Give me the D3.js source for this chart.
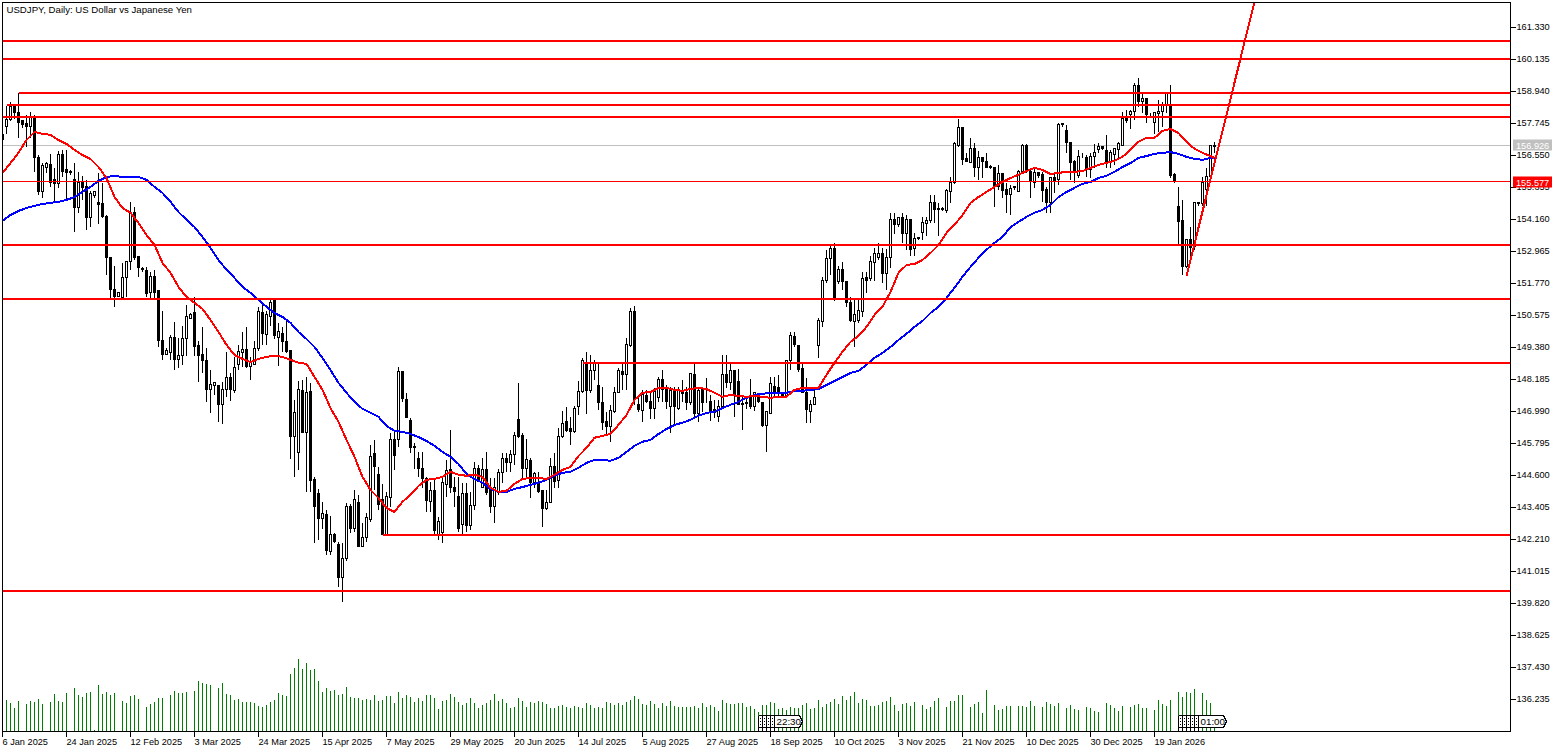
<!DOCTYPE html>
<html>
<head>
<meta charset="utf-8">
<title>USDJPY Daily</title>
<script src="https://cdn.jsdelivr.net/npm/d3@7"></script>
<style>
  html, body { margin: 0; padding: 0; background: #fff; overflow: hidden; }
  text { font-family: "Liberation Sans", Arial, sans-serif; font-size: 9.2px; fill: #000; }
</style>
</head>
<body>
<svg id="chart"></svg>
<script>
// Configuration
const width = 1563;
const height = 752;

// Data
const opens = [
157.32,157.62,157.88,158.37,158.14,157.84,157.73,157.62,157.99,156.46,
155.19,156.12,156.20,155.64,155.49,156.57,156.01,155.96,155.64,154.59,
155.53,155.38,154.22,155.04,154.78,154.74,154.26,152.73,151.53,151.27,
151.23,151.98,152.58,154.44,152.76,152.33,152.24,151.42,152.02,151.49,
149.66,149.10,149.18,149.74,148.92,149.07,149.70,150.48,150.67,149.44,
149.10,148.88,147.80,147.95,147.95,147.24,147.80,148.25,147.76,148.73,
149.18,149.29,148.66,148.73,149.33,150.67,149.85,150.52,151.16,149.74,
149.92,149.59,149.25,146.04,145.45,147.76,146.19,147.72,144.44,143.91,
142.98,143.13,141.75,142.38,142.01,140.78,141.49,143.43,142.61,143.58,
141.94,142.27,142.94,145.41,144.63,143.69,142.38,143.76,145.93,145.93,
148.47,147.42,146.64,145.63,145.22,144.85,144.47,143.62,144.03,142.38,
142.46,144.25,144.81,144.17,143.80,142.76,143.91,142.72,143.47,144.85,
144.17,144.81,144.17,143.43,143.95,144.70,145.22,145.07,145.37,146.68,
146.08,144.88,145.15,144.33,144.33,144.03,143.35,143.58,144.92,144.40,
146.04,146.60,146.34,146.23,147.16,147.72,148.81,147.76,148.51,147.95,
147.31,146.60,146.42,146.98,147.69,148.47,148.36,149.44,150.71,147.24,
147.01,147.57,147.35,147.09,147.50,148.17,147.87,147.16,147.76,147.12,
147.72,147.69,147.31,148.36,146.90,147.80,147.80,147.35,147.05,146.79,
147.16,148.36,148.06,148.51,148.10,147.24,147.31,147.54,147.16,147.57,
147.31,146.45,146.90,147.91,147.87,147.69,147.57,148.88,149.78,149.44,
148.58,147.69,146.98,147.24,149.44,150.34,151.87,152.69,153.06,151.83,
152.28,151.83,151.05,150.34,150.37,150.71,151.98,151.94,152.54,152.73,
152.88,152.13,152.73,154.15,153.96,154.22,153.62,154.15,153.06,153.45,
153.66,154.00,154.11,154.78,154.53,154.53,154.48,155.19,155.53,156.94,
157.58,156.42,156.27,156.83,156.12,156.46,156.31,156.12,156.09,155.41,
155.86,155.27,155.08,155.38,155.19,155.94,156.91,155.94,155.56,155.90,
155.83,155.27,154.78,155.71,155.64,157.73,157.47,157.02,156.31,155.79,
156.53,156.46,156.01,156.50,156.76,156.87,156.72,156.31,156.57,156.76,
156.94,157.92,158.07,158.18,159.15,158.55,158.66,158.07,157.80,158.10,
158.18,158.40,158.44,155.83,154.63,154.11,152.39,153.40,153.14,154.78,
154.74,155.27,155.75,156.90];
const highs = [
157.99,158.40,158.55,158.44,158.89,157.88,158.07,158.18,158.07,156.57,
156.27,156.31,156.61,156.12,156.72,156.76,156.76,156.01,156.27,155.97,
155.79,155.64,155.23,155.23,155.90,155.53,154.33,152.73,152.43,151.45,
152.54,152.58,154.82,154.63,152.76,152.39,152.39,152.20,152.28,151.49,
150.75,149.37,149.85,150.34,149.74,150.19,150.97,150.67,151.27,149.63,
150.15,149.37,148.54,148.06,147.95,148.10,149.22,148.43,149.03,149.48,
149.96,150.15,149.03,149.66,150.90,151.05,150.78,151.16,151.20,150.30,
150.15,150.41,149.25,147.42,148.13,148.17,148.28,148.06,144.55,144.10,
143.62,143.32,143.09,142.46,142.12,142.08,143.58,143.54,144.06,143.88,
142.83,143.20,145.74,145.93,144.92,144.29,143.99,146.19,146.30,148.66,
148.47,147.69,146.75,145.82,145.48,145.48,144.55,144.36,144.51,143.06,
144.51,145.18,146.30,144.55,144.55,144.32,144.32,143.99,145.11,145.00,
145.29,145.48,144.51,144.51,144.88,145.45,145.45,145.56,146.23,148.06,
146.19,145.97,145.26,144.74,144.74,144.03,144.06,145.26,145.45,146.38,
147.01,147.16,146.79,147.20,148.13,148.99,149.22,149.10,148.92,148.77,
147.91,146.98,147.24,147.91,148.62,148.77,149.74,150.86,150.93,147.54,
147.83,147.80,147.72,147.87,148.28,148.54,147.98,147.91,147.91,147.91,
148.17,147.91,148.43,148.81,147.87,147.91,148.25,147.61,147.42,147.42,
149.10,149.10,148.81,148.54,148.58,147.54,147.54,148.21,147.72,147.65,
147.31,146.98,148.28,148.28,148.36,147.72,148.92,149.96,149.96,149.48,
148.84,148.25,147.42,147.80,150.49,152.05,153.03,153.21,153.29,152.46,
152.61,151.87,151.27,151.16,151.20,152.20,152.20,152.80,153.10,153.29,
153.10,153.06,154.41,154.41,154.29,154.44,154.33,154.15,153.66,153.51,
154.26,154.26,155.08,155.08,154.78,154.63,155.30,155.75,157.06,157.92,
157.58,156.68,157.21,157.02,156.72,156.50,156.65,156.20,156.12,156.20,
155.90,155.56,155.45,155.38,156.01,156.98,156.98,156.09,156.12,155.94,
155.94,155.38,155.75,155.94,157.77,157.80,157.69,157.09,156.39,156.76,
156.65,156.57,156.65,156.98,157.02,156.91,157.32,156.76,156.83,157.09,
158.21,158.25,158.25,159.26,159.48,158.89,158.70,158.14,158.18,158.63,
158.55,158.85,159.22,155.90,155.38,154.89,153.40,153.88,154.78,154.82,
155.75,156.09,156.94,157.09];
const lows = [
157.13,157.36,157.84,157.95,157.24,157.58,156.87,157.24,155.94,155.08,
155.00,155.90,155.38,154.82,155.34,155.75,154.89,155.83,153.70,154.41,
154.89,153.77,153.88,155.00,154.00,154.22,152.09,151.16,150.90,151.27,
151.16,151.27,152.28,152.65,152.02,152.20,151.27,151.23,151.16,149.40,
148.95,149.10,148.95,148.54,148.62,148.73,149.07,150.45,149.07,148.10,
148.43,147.35,146.94,147.61,146.60,146.53,147.54,147.39,147.69,148.54,
148.66,148.62,148.17,148.73,149.25,149.51,149.51,150.22,149.70,148.69,
149.22,149.18,145.22,144.55,144.81,146.19,143.99,143.99,142.08,142.20,
142.61,141.64,141.64,142.08,140.44,139.88,141.41,142.46,142.50,141.94,
141.94,142.12,142.87,144.06,143.32,142.38,142.38,143.43,144.81,145.67,
147.35,146.75,145.45,144.88,144.55,144.17,143.24,143.24,142.38,142.20,
142.08,143.80,143.95,143.43,142.50,142.38,142.50,142.57,143.32,144.36,
144.14,143.88,143.20,142.83,143.88,144.33,144.74,144.74,145.00,146.01,
144.51,144.51,143.76,144.17,143.95,142.68,143.32,143.58,144.17,144.17,
146.01,146.23,145.74,146.19,146.86,147.69,146.90,147.69,148.17,147.05,
146.30,146.12,145.86,146.94,147.69,147.83,147.80,149.40,147.24,146.98,
146.60,147.31,146.71,146.71,147.35,147.35,147.12,146.19,146.45,147.05,
147.35,147.05,147.24,146.79,146.60,146.98,147.31,146.64,146.75,146.60,
147.12,147.87,147.80,146.79,147.24,146.30,147.12,147.12,147.01,147.31,
146.42,145.48,146.90,147.54,147.54,147.54,147.54,148.54,149.40,148.47,
147.69,146.57,146.57,147.24,148.99,150.15,151.79,152.09,151.12,151.76,
151.53,150.90,150.34,149.40,150.30,150.52,151.45,151.90,151.90,152.65,
151.79,151.53,152.35,153.62,153.88,153.29,153.03,152.80,152.80,153.40,
153.40,153.58,154.03,154.03,153.58,154.48,154.44,154.78,155.49,156.87,
156.20,156.31,156.27,155.75,155.64,155.71,156.12,156.05,154.63,155.27,
155.00,154.44,154.33,155.27,155.19,155.90,155.90,154.97,155.34,155.71,
154.82,154.41,154.44,155.15,155.45,157.62,156.68,155.64,155.56,155.71,
156.46,155.75,155.71,156.09,156.68,156.76,156.09,156.12,156.20,156.46,
156.91,157.80,157.54,157.88,158.37,158.14,157.80,157.99,157.39,157.43,
157.62,158.14,155.71,155.56,153.25,152.09,152.35,152.76,153.03,154.70,
154.70,154.70,155.64,156.65];
const closes = [
157.13,157.88,158.37,158.14,157.80,157.69,157.62,157.99,156.46,155.19,
156.16,156.24,155.56,155.49,156.57,155.94,155.90,155.92,154.59,155.53,
155.34,154.22,155.12,155.19,154.71,154.26,152.73,151.53,151.27,151.42,
151.98,152.58,154.44,152.73,152.35,152.30,151.38,152.02,151.45,149.63,
149.10,149.25,149.74,148.92,149.07,149.70,150.52,150.63,149.40,149.07,
148.88,147.80,147.98,148.06,147.24,147.80,148.25,147.80,148.62,149.22,
149.29,148.66,148.81,149.33,150.71,149.89,150.60,151.05,149.81,149.96,
149.59,149.22,146.04,146.94,147.83,146.19,147.69,144.40,143.43,142.98,
143.17,141.79,142.38,142.12,140.78,141.49,143.43,142.61,143.69,141.94,
142.27,143.02,145.30,144.92,143.50,142.38,143.80,145.93,145.33,148.47,
147.46,146.75,145.63,145.67,144.85,144.47,143.65,144.03,142.53,142.87,
144.32,144.77,144.17,143.99,142.61,143.91,142.72,143.47,144.85,144.36,
144.81,143.95,143.43,144.14,144.70,145.22,145.07,145.37,146.08,146.04,
144.88,145.18,144.33,144.66,143.99,143.35,143.58,144.92,144.36,146.04,
146.56,146.27,146.23,147.09,147.72,148.88,147.76,148.51,148.81,147.31,
146.57,146.42,147.01,147.69,148.51,148.36,149.51,150.71,147.42,147.05,
147.61,147.35,147.09,147.72,148.17,147.83,147.35,147.76,147.16,147.76,
147.65,147.31,148.40,146.90,147.76,147.31,147.83,146.98,146.94,147.16,
148.36,148.06,148.51,147.61,147.24,147.28,147.28,147.16,147.69,147.35,
146.45,146.98,148.02,147.69,147.69,147.54,148.88,149.81,149.48,148.54,
147.69,147.05,147.24,147.50,150.37,151.90,152.69,153.06,151.16,152.28,
151.83,151.05,150.37,150.63,150.75,151.94,151.90,152.58,152.88,152.88,
152.13,152.73,154.15,153.96,154.22,153.62,154.15,153.03,153.44,153.49,
154.03,154.11,154.78,154.52,154.57,154.57,155.23,155.53,156.98,157.58,
156.39,156.31,156.83,156.12,156.46,156.31,156.12,156.14,155.41,155.86,
155.23,155.08,155.30,155.34,155.94,156.91,155.94,155.60,155.90,155.79,
155.23,154.78,155.71,155.60,157.69,157.69,157.02,156.27,155.94,156.50,
156.50,156.05,156.50,156.65,156.87,156.80,156.27,156.65,156.80,156.98,
157.92,157.84,158.21,159.15,158.55,158.66,158.07,158.09,158.14,158.21,
158.40,158.85,155.79,155.60,154.07,152.39,153.40,153.10,154.78,154.74,
155.56,155.75,156.94,156.93];
// tick volume, thousands
const volumes = [
0,31,28,23,30,0,27,30,29,32,27,0,29,37,30,29,38,0,43,36,
34,38,39,1,46,37,39,36,38,0,30,28,35,36,32,0,24,27,29,33,
33,0,36,40,38,38,39,0,40,50,48,47,46,0,43,48,37,36,31,32,
29,29,29,28,25,24,26,29,31,38,36,35,57,63,72,62,68,61,62,50,
39,43,40,41,36,37,44,34,33,33,31,32,31,36,30,31,35,35,28,39,
33,36,34,29,33,30,36,36,33,22,30,31,37,34,29,26,28,33,28,23,
26,28,31,37,30,32,28,23,24,33,30,24,29,28,30,29,27,23,23,25,
26,24,23,25,24,23,28,26,23,24,23,29,28,26,28,26,29,31,35,32,
27,26,30,27,23,28,25,30,25,24,24,24,24,25,23,28,24,26,24,20,
31,28,27,27,28,28,24,25,22,19,26,26,29,28,22,23,21,24,23,23,
26,28,22,23,31,24,27,29,32,27,35,31,35,39,28,32,31,25,25,26,
29,30,34,26,20,27,28,25,29,0,26,22,24,30,33,0,24,30,30,36,
36,0,24,27,29,18,41,0,26,21,22,25,25,0,25,25,24,30,25,0,
24,29,27,25,28,0,23,26,22,21,0,24,23,20,19,0,28,26,23,20,
25,0,24,26,27,23,23,0,21,31,27,25,31,0,39,34,39,38,42,0,
38,31,28,10];

// moving averages, read every second bar plus the last one
const maBars = d3.range(0, 303, 2).concat(303);
const maFast = [
155.90,156.27,156.65,157.13,157.43,157.36,157.32,157.13,156.98,156.76,
156.57,156.42,156.12,155.71,155.00,154.59,154.41,154.03,153.58,153.21,
152.54,152.17,151.64,151.27,151.05,150.82,150.41,149.96,149.48,149.10,
148.95,148.84,148.95,149.03,
149.07,149.03,148.92,148.81,148.77,148.28,147.80,147.12,146.60,145.93,
145.30,144.55,144.06,143.76,143.39,143.24,143.62,143.88,144.21,144.44,
144.47,144.55,144.74,144.63,144.59,144.63,144.55,144.14,143.99,144.03,
144.29,144.47,144.51,144.51,144.47,144.63,144.81,144.92,145.33,145.63,
146.01,146.08,146.15,146.49,146.86,147.42,147.69,147.72,147.87,147.87,
147.80,147.76,147.83,147.87,147.83,147.69,147.54,147.61,147.57,147.54,
147.57,147.54,147.50,147.54,147.54,147.80,
147.87,147.87,147.87,148.36,148.81,149.22,149.59,149.81,150.15,150.60,
150.90,151.45,152.17,152.46,152.50,152.65,152.91,153.21,153.66,153.96,
154.33,154.78,155.00,155.19,155.38,155.56,155.71,155.83,155.97,156.09,156.01,
155.86,155.90,155.94,155.94,155.97,156.09,156.20,156.27,156.35,156.50,
156.76,157.06,157.21,157.21,157.47,157.54,157.39,157.06,156.80,156.65,156.53,156.46];
const maSlow = [
154.11,154.33,154.48,154.59,154.67,154.74,154.78,154.82,154.89,155.00,
155.19,155.38,155.60,155.75,155.79,155.75,155.75,155.75,155.64,155.38,
155.15,154.82,154.44,154.15,153.88,153.51,153.10,152.65,152.28,151.98,
151.64,151.42,151.16,
150.90,150.67,150.52,150.30,149.96,149.70,149.40,148.99,148.54,148.06,
147.69,147.35,147.09,146.94,146.79,146.45,146.27,146.23,146.15,146.04,
145.89,145.71,145.48,145.30,145.03,144.66,144.47,144.33,144.10,143.99,143.99,
144.10,144.17,144.25,144.33,144.44,144.59,144.70,144.74,144.89,145.07,
145.18,145.18,145.15,145.26,145.48,145.71,145.86,145.93,146.15,146.34,
146.49,146.57,146.68,146.83,146.94,146.98,147.12,147.24,147.35,147.50,
147.61,147.65,147.69,147.69,147.69,147.76,
147.76,147.80,147.83,147.98,148.13,148.28,148.43,148.51,148.73,148.99,
149.18,149.40,149.66,149.89,150.15,150.37,150.67,150.90,151.23,151.61,
152.02,152.39,152.73,153.03,153.29,153.51,153.88,154.07,154.26,154.41,154.52,
154.70,155.00,155.19,155.34,155.49,155.56,155.71,155.79,155.94,156.12,
156.27,156.46,156.53,156.61,156.65,156.68,156.61,156.50,156.42,156.39,156.46,156.46];

// Drawn levels and trend line
const levelPrices = [160.83, 160.15, 158.90, 158.44, 157.99, 153.21, 151.19, 148.80, 142.38, 140.29];
const levelStartBars = [0, 0, 4, 1, 0, 0, 0, 145, 95, 0];
const trendBars = [296, 313];
const trendPrices = [152.05, 162.28];
const lastPrice = 156.926;
const markedPrice = 155.577;

// Axes labels
const priceTicks = d3.range(0, 22).map(k => 161.33 - k * 1.195);
const dateLabels = ["6 Jan 2025", "24 Jan 2025", "12 Feb 2025", "3 Mar 2025", "24 Mar 2025", "15 Apr 2025",
  "7 May 2025", "29 May 2025", "20 Jun 2025", "14 Jul 2025", "5 Aug 2025", "27 Aug 2025", "18 Sep 2025",
  "10 Oct 2025", "3 Nov 2025", "21 Nov 2025", "10 Dec 2025", "30 Dec 2025", "19 Jan 2026"];
const dateBars = dateLabels.map((d, i) => i * 16);

// Event tags on the time axis
const eventGroups = [
  { bars: [189, 190, 191, 192, 193], label: "22:30" },
  { bars: [294, 295, 296, 297, 298, 299], label: "01:00" }
];

// Frame
const plotLeft = 2, plotRight = 1510, plotTop = 2, plotBottom = 731;

const svg = d3.select("#chart")
    .attr("width", width)
    .attr("height", height)
    .attr("viewBox", `0 0 ${width} ${height}`)
    .style("display", "block");

const x = d3.scaleLinear().domain([0, 377]).range([2.5, 1510.5]);
const y = d3.scaleLinear().domain([161.33, 136.235]).range([27.5, 699.5]);
const vol = d3.scaleLinear().domain([0, 72]).range([plotBottom, 659]);

// snap to a pixel centre so everything stays sharp like the terminal does
const snap = v => Math.round(v - 0.5) + 0.5;

svg.append("defs").append("clipPath").attr("id", "plot")
  .append("rect")
    .attr("x", plotLeft).attr("y", plotTop)
    .attr("width", plotRight - plotLeft).attr("height", plotBottom - plotTop);

const plot = svg.append("g").attr("clip-path", "url(#plot)").attr("shape-rendering", "crispEdges");

// Last price line goes under the candles
plot.append("line")
    .attr("x1", plotLeft).attr("x2", plotRight)
    .attr("y1", snap(y(lastPrice))).attr("y2", snap(y(lastPrice)))
    .attr("stroke", "#c0c0c0");

// Volumes
plot.append("g").selectAll("line")
  .data(volumes)
  .join("line")
    .attr("x1", (d, i) => x(i)).attr("x2", (d, i) => x(i))
    .attr("y1", plotBottom)
    .attr("y2", d => vol(d))
    .attr("stroke", "#008000");

// Candles
const bars = d3.range(opens.length);
const candles = plot.append("g").selectAll("g")
  .data(bars)
  .join("g");

candles.append("line")
    .attr("x1", i => x(i)).attr("x2", i => x(i))
    .attr("y1", i => snap(y(highs[i])))
    .attr("y2", i => snap(y(lows[i])))
    .attr("stroke", "#000");

candles.append("rect")
    .attr("x", i => x(i) - 1)
    .attr("width", 2)
    .attr("y", i => snap(y(Math.max(opens[i], closes[i]))))
    .attr("height", i => Math.max(snap(y(Math.min(opens[i], closes[i]))) - snap(y(Math.max(opens[i], closes[i]))), 0))
    .attr("fill", i => closes[i] >= opens[i] ? "#fff" : "#000")
    .attr("stroke", "#000");

// Moving averages
const maLine = values => d3.line()
    .x((d, i) => x(maBars[i]))
    .y(d => y(d))(values);

plot.append("path").attr("d", maLine(maSlow))
    .attr("fill", "none").attr("stroke", "#0000ff").attr("stroke-width", 2);
plot.append("path").attr("d", maLine(maFast))
    .attr("fill", "none").attr("stroke", "#ff0000").attr("stroke-width", 2);

// Levels
plot.append("g").selectAll("line")
  .data(levelPrices)
  .join("line")
    .attr("x1", (d, i) => x(levelStartBars[i]))
    .attr("x2", plotRight)
    .attr("y1", d => Math.round(y(d)))
    .attr("y2", d => Math.round(y(d)))
    .attr("stroke", "#ff0000")
    .attr("stroke-width", 2);

plot.append("line")
    .attr("x1", plotLeft).attr("x2", plotRight)
    .attr("y1", snap(y(markedPrice))).attr("y2", snap(y(markedPrice)))
    .attr("stroke", "#ff0000");

// Trend line
plot.append("line")
    .attr("x1", x(trendBars[0])).attr("x2", x(trendBars[1]))
    .attr("y1", y(trendPrices[0])).attr("y2", y(trendPrices[1]))
    .attr("stroke", "#ff0000")
    .attr("stroke-width", 2);

// Event tags
eventGroups.forEach(group => {
  const g = svg.append("g").attr("shape-rendering", "crispEdges");
  const first = x(group.bars[0]);
  const last = x(group.bars[group.bars.length - 1]);
  const tagTop = 715.5, tagBottom = 727.5, tagRight = last + 28;
  group.bars.forEach(b => {
    g.append("line")
        .attr("x1", x(b)).attr("x2", x(b))
        .attr("y1", tagTop).attr("y2", plotBottom)
        .attr("stroke", "#000");
    g.append("line")
        .attr("x1", x(b) + 2).attr("x2", x(b) + 2)
        .attr("y1", tagTop + 2).attr("y2", tagBottom)
        .attr("stroke", "#000")
        .attr("stroke-dasharray", "1 2");
  });
  g.append("line").attr("x1", first).attr("x2", last).attr("y1", tagTop).attr("y2", tagTop).attr("stroke", "#000");
  g.append("line").attr("x1", first).attr("x2", last).attr("y1", tagBottom).attr("y2", tagBottom).attr("stroke", "#000");
  g.append("path")
      .attr("d", `M${last},${tagTop}H${tagRight - 3}L${tagRight},${(tagTop + tagBottom) / 2}L${tagRight - 3},${tagBottom}H${last}Z`)
      .attr("fill", "#fff")
      .attr("stroke", "#000");
  svg.append("text").attr("x", last + 2).attr("y", 725).style("font-size", "9.8px").text(group.label);
});

// Frame
svg.append("rect")
    .attr("x", plotLeft + 0.5).attr("y", plotTop + 0.5)
    .attr("width", plotRight - plotLeft).attr("height", plotBottom - plotTop)
    .attr("fill", "none").attr("stroke", "#000")
    .attr("shape-rendering", "crispEdges");

// Price axis
const priceAxis = d3.axisRight(y)
    .tickValues(priceTicks)
    .tickFormat(d3.format(".3f"))
    .tickSize(5)
    .tickPadding(1)
    .offset(0);

const gPrice = svg.append("g")
    .attr("transform", `translate(${plotRight + 0.5},0)`)
    .attr("shape-rendering", "crispEdges")
    .call(priceAxis);
gPrice.select(".domain").remove();
gPrice.attr("font-family", null).attr("font-size", null);

// Time axis
const timeAxis = d3.axisBottom(x)
    .tickValues(dateBars)
    .tickFormat((d, i) => dateLabels[i])
    .tickSize(5)
    .tickPadding(1)
    .offset(0);

const gTime = svg.append("g")
    .attr("transform", `translate(0,${plotBottom + 0.5})`)
    .attr("shape-rendering", "crispEdges")
    .call(timeAxis);
gTime.select(".domain").remove();
gTime.attr("font-family", null).attr("font-size", null);
gTime.selectAll("text")
    .attr("text-anchor", "start")
    .attr("dy", null)
    .attr("y", 13);

// Price tags
const tags = [
  { price: lastPrice, color: "#c0c0c0" },
  { price: markedPrice, color: "#ff0000" }
];
tags.forEach(t => {
  const yy = Math.round(y(t.price));
  svg.append("rect")
      .attr("x", 1513).attr("y", yy - 5.5)
      .attr("width", 39).attr("height", 11)
      .attr("fill", t.color);
  svg.append("text")
      .attr("x", 1516).attr("y", yy + 3.5)
      .style("fill", "#fff")
      .text(d3.format(".3f")(t.price));
});

// Title
svg.append("text")
    .attr("x", 6.5).attr("y", 12.5)
    .style("font-size", "9.65px")
    .text("USDJPY, Daily:  US Dollar vs Japanese Yen");
</script>
</body>
</html>
